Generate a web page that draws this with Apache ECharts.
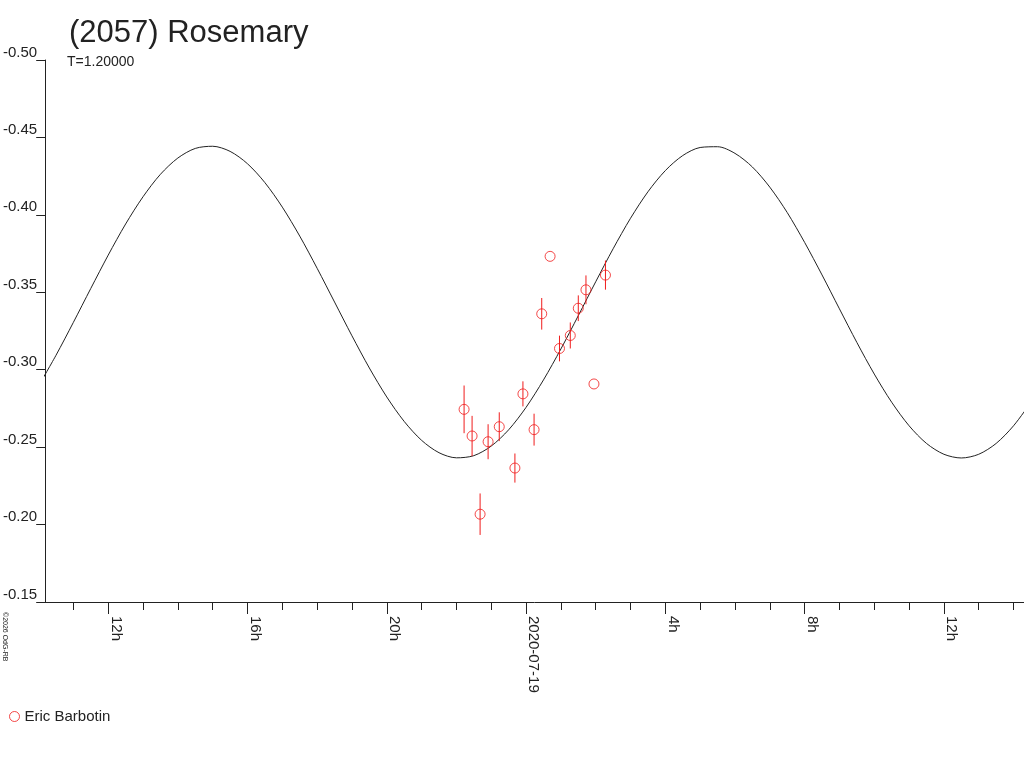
<!DOCTYPE html>
<html><head><meta charset="utf-8">
<script src="https://cdn.jsdelivr.net/npm/echarts@6/dist/echarts.min.js"></script>
<style>html,body{margin:0;padding:0;background:#fff}#c{width:1024px;height:768px}</style>
</head><body><div id="c"></div>
<script>
// hours since 2020-07-18 00:00
const curveHours = [10,10.5,11,11.5,12,12.5,13,13.5,14,14.5,15,15.5,16,16.5,17,17.5,18,18.5,19,19.5,20,20.5,21,21.5,22,22.5,23,23.5,24,24.5,25,25.5,26,26.5,27,27.5,28,28.5,29,29.5,30,30.5,31,31.5,32,32.5,33,33.5,34,34.5,35,35.5,36,36.5,37,37.5,38,38.5];
const curveMags  = [-0.2896,-0.3093,-0.3306,-0.3525,-0.3740,-0.3941,-0.4117,-0.4262,-0.4367,-0.4429,-0.4443,-0.4410,-0.4330,-0.4208,-0.4050,-0.3863,-0.3655,-0.3437,-0.3219,-0.3011,-0.2824,-0.2666,-0.2544,-0.2464,-0.2431,-0.2445,-0.2507,-0.2612,-0.2757,-0.2934,-0.3134,-0.3349,-0.3568,-0.3781,-0.3978,-0.4149,-0.4286,-0.4383,-0.4435,-0.4440,-0.4397,-0.4309,-0.4179,-0.4015,-0.3822,-0.3612,-0.3393,-0.3176,-0.2972,-0.2790,-0.2638,-0.2524,-0.2454,-0.2430,-0.2454,-0.2524,-0.2638,-0.2790];
const obsHours = [22.22,22.45,22.68,22.91,23.23,23.68,23.91,24.23,24.45,24.69,24.96,25.27,25.50,25.72,25.95,26.28];
const obsMags  = [-0.2744,-0.2572,-0.2067,-0.2535,-0.2632,-0.2365,-0.2844,-0.2613,-0.3361,-0.3732,-0.3137,-0.3221,-0.3397,-0.3516,-0.2908,-0.3611];
const obsErrs  = [0.0154,0.0130,0.0134,0.0113,0.0093,0.0094,0.0081,0.0103,0.0102,0,0.0083,0.0084,0.0083,0.0093,0,0.0094];
const majorTickHours = [12,16,20,24,28,32,36];
const majorTickLabels = ['12h','16h','20h','2020-07-19','4h','8h','12h'];
const minorTickHours = [11,12,13,14,15,16,17,18,19,20,21,22,23,24,25,26,27,28,29,30,31,32,33,34,35,36,37,38];
const xMin = 10.19, xMax = 38.30;
const yMin = -0.50, yMax = -0.15, yStep = 0.05;

const RED = '#f01c1c';
const FONT = 'Liberation Sans, Arial, sans-serif';
const chart = echarts.init(document.getElementById('c'));
const curveData = curveHours.map((h, i) => [h, curveMags[i]]);
const obsData = obsHours.map((h, i) => [h, obsMags[i], obsErrs[i]]);

chart.setOption({
  animation: false,
  backgroundColor: '#fff',
  textStyle: { fontFamily: FONT },
  title: [
    { text: '(2057) Rosemary', left: 64, top: 13, textStyle: { fontSize: 31, fontWeight: 'normal', color: '#222', fontFamily: FONT } },
    { text: 'T=1.20000', left: 62, top: 50, textStyle: { fontSize: 14, fontWeight: 'normal', color: '#222', fontFamily: FONT } }
  ],
  legend: {
    left: 4, top: 704, itemWidth: 10, itemHeight: 10, itemGap: 6,
    textStyle: { fontSize: 15, color: '#222', fontFamily: FONT },
    data: [{ name: 'Eric Barbotin', icon: 'circle', itemStyle: { color: '#fff', borderColor: RED, borderWidth: 1 } }]
  },
  graphic: [{
    type: 'text', x: 1, y: 612, rotation: -Math.PI / 2,
    style: { text: '©2026 OdG-RB', fontSize: 7, fill: '#222', fontFamily: FONT, align: 'left', verticalAlign: 'bottom' }
  }],
  grid: { left: 45, right: 0, top: 60, bottom: 166, containLabel: false },
  xAxis: [{
    type: 'value', min: xMin, max: xMax,
    axisLine: { show: true, lineStyle: { color: '#222', width: 1 } },
    axisTick: { show: true, length: 8, lineStyle: { color: '#222' }, customValues: minorTickHours },
    axisLabel: {
      show: true, rotate: -90, margin: 14, fontSize: 15, color: '#222', fontFamily: FONT,
      align: 'left', verticalAlign: 'bottom',
      customValues: majorTickHours,
      formatter: v => majorTickLabels[majorTickHours.indexOf(Math.round(v))]
    },
    splitLine: { show: false }
  }, {
    type: 'value', min: xMin, max: xMax, position: 'bottom', gridIndex: 0,
    axisLine: { show: false },
    axisTick: { show: true, length: 12, lineStyle: { color: '#222' }, customValues: majorTickHours },
    axisLabel: { show: false },
    splitLine: { show: false }
  }],
  yAxis: {
    type: 'value', min: yMin, max: yMax, interval: yStep, inverse: true,
    axisLine: { show: true, lineStyle: { color: '#222', width: 1 } },
    axisTick: { show: true, length: 9, lineStyle: { color: '#222' } },
    axisLabel: { margin: 8, fontSize: 15, color: '#222', fontFamily: FONT, verticalAlign: 'bottom', formatter: v => v.toFixed(2) },
    splitLine: { show: false }
  },
  series: [
    {
      name: 'fit', type: 'line', data: curveData, smooth: 0.3, showSymbol: false, symbol: 'none',
      lineStyle: { color: '#222', width: 1 }, clip: true, silent: true, z: 1
    },
    {
      name: 'errors', type: 'custom', data: obsData, z: 2, silent: true,
      renderItem: function (params, api) {
        const e = api.value(2);
        if (!e) return null;
        const x = api.value(0), v = api.value(1);
        const p1 = api.coord([x, v - e]), p2 = api.coord([x, v + e]);
        return { type: 'line', shape: { x1: p1[0], y1: p1[1], x2: p2[0], y2: p2[1] }, style: { stroke: RED, lineWidth: 1 } };
      }
    },
    {
      name: 'Eric Barbotin', type: 'scatter', data: obsData, symbol: 'circle', symbolSize: 10, z: 3,
      itemStyle: { color: 'rgba(255,255,255,0)', borderColor: RED, borderWidth: 1 }
    }
  ]
});
</script></body></html>
